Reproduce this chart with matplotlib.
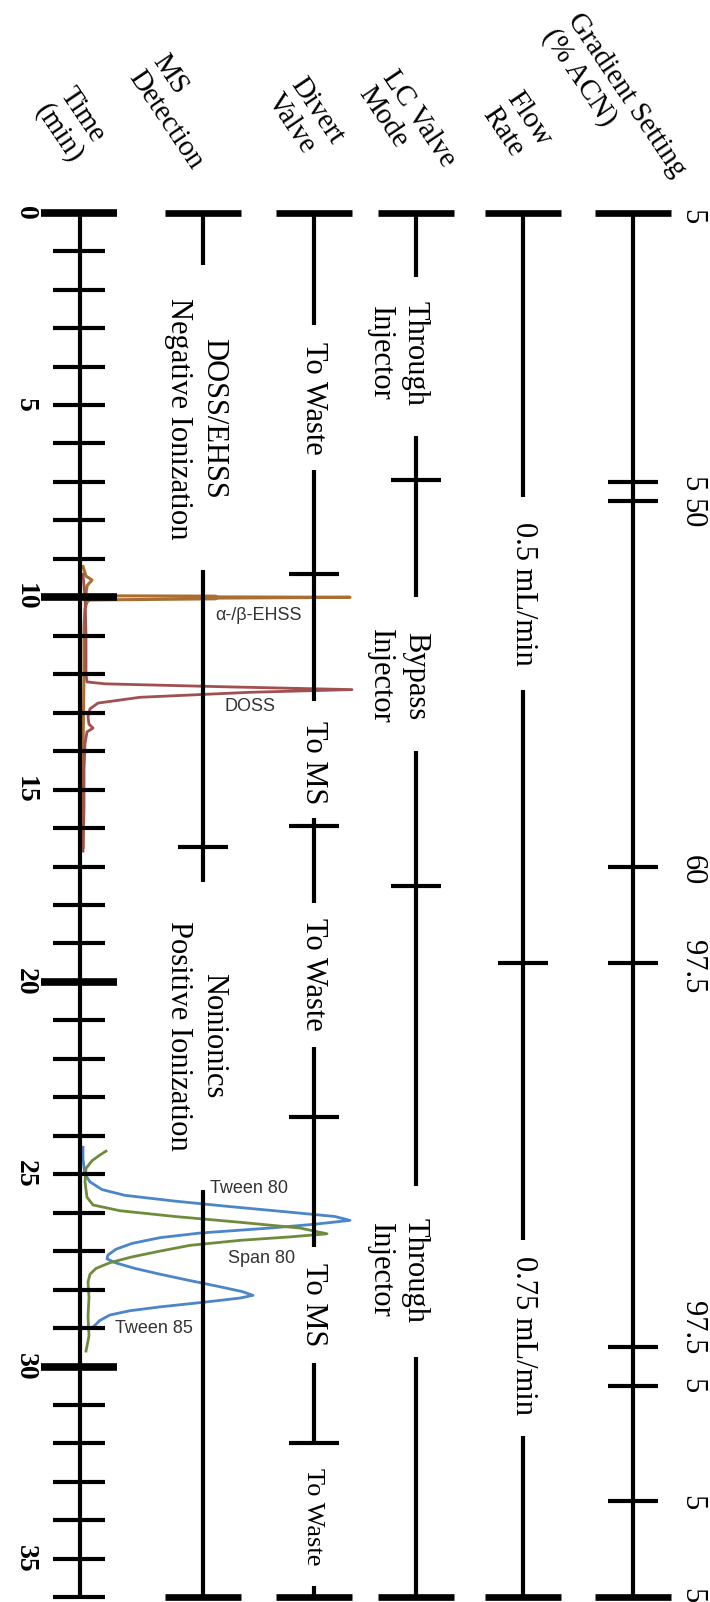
import numpy as np
import matplotlib.pyplot as plt

plt.rcParams['font.family'] = ['Liberation Serif', 'DejaVu Serif']

# ---- data ----
t_end = 36
minor_t = np.arange(0, 37, 1)
major_t = [0, 10, 20, 30]
time_lbl = [0, 5, 10, 15, 20, 25, 30, 35]

headers = ['Time\n(min)', 'MS\nDetection', 'Divert\nValve',
           'LC Valve\nMode', 'Flow\nRate', 'Gradient Setting\n(% ACN)']

ms_seg = [(0, 1.35), (9.3, 17.4), (25.4, 36)]
ms_cross = [16.5]
ms_txt = ['DOSS/EHSS\nNegative Ionization', 'Nonionics\nPositive Ionization']
ms_txt_t = [5.35, 21.4]

div_seg = [(0, 2.93), (6.7, 12.7), (15.75, 17.95), (21.7, 26.9), (29.9, 32.0), (35.7, 36)]
div_cross = [9.4, 15.95, 23.5, 32.0]
div_txt = ['To Waste', 'To MS', 'To Waste', 'To MS', 'To Waste']
div_txt_t = [4.83, 14.3, 19.8, 28.4, 33.9]

lc_seg = [(0, 1.67), (5.8, 10.0), (14.0, 25.3), (29.75, 36)]
lc_cross = [6.95, 17.5]
lc_txt = ['Through\nInjector', 'Bypass\nInjector', 'Through\nInjector']
lc_txt_t = [3.65, 12.05, 27.5]

flow_seg = [(0, 7.4), (12.4, 26.7), (31.8, 36)]
flow_cross = [19.5]
flow_txt = ['0.5 mL/min', '0.75 mL/min']
flow_txt_t = [9.9, 29.2]

grad_seg = [(0, 36)]
grad_cross = [7, 7.5, 17, 19.5, 29.5, 30.5, 33.5]
grad_lbl = ['5', '5', '50', '60', '97.5', '97.5', '5', '5', '5']
grad_lbl_t = [0.1, 7.05, 7.8, 17.1, 19.6, 29.0, 30.5, 33.55, 35.95]

# chromatogram traces (time, signal)
ehss_t = [9.2, 9.45, 9.55, 9.7, 9.9, 9.96, 9.97, 9.99, 10.0, 10.02, 10.04, 10.07, 10.12, 10.3, 10.8, 12, 14, 16.5]
ehss_i = [3, 6, 12, 7, 6, 8, 135, 138, 270, 138, 135, 10, 7, 5, 4, 4, 3, 3]
doss_t = [9.4, 10.0, 11.0, 12.0, 12.2, 12.25, 12.33, 12.4, 12.47, 12.6, 12.75, 12.9, 13.1, 13.3, 13.4, 13.5, 13.8, 14.5, 15.5, 16.6]
doss_i = [3, 5, 6, 6, 7, 25, 150, 272, 170, 60, 18, 10, 8, 9, 13, 7, 5, 4, 4, 3]
tw_t = [24.3, 24.6, 25.0, 25.2, 25.4, 25.55, 25.7, 25.85, 26.0, 26.1, 26.2, 26.3, 26.4, 26.53,
        26.65, 26.8, 26.95, 27.1, 27.2, 27.3, 27.45, 27.6, 27.75, 27.9, 28.05, 28.15, 28.22,
        28.32, 28.45, 28.55, 28.66, 28.8, 28.95]
tw_i = [3, 3, 5, 10, 22, 45, 95, 153, 215, 255, 270, 235, 190, 120,
        80, 52, 36, 28, 27, 35, 55, 80, 107, 135, 162, 173, 160,
        127, 80, 50, 30, 20, 14]
sp_t = [24.4, 24.5, 24.65, 24.85, 25.2, 25.6, 25.8, 25.95, 26.1, 26.25, 26.4, 26.55, 26.63,
        26.72, 26.85, 27.0, 27.15, 27.3, 27.45, 27.6, 27.8, 28.2, 28.7, 29.2, 29.6]
sp_i = [26, 20, 12, 6, 5, 7, 13, 40, 95, 160, 220, 247, 210,
        160, 110, 80, 52, 30, 16, 10, 8, 9, 8, 9, 6]
peak_lbl = ['α-/β-EHSS', 'DOSS', 'Tween 80', 'Span 80', 'Tween 85']
peak_lbl_t = [10.47, 12.85, 25.36, 27.18, 29.0]
peak_lbl_x = [215, 225, 210, 228, 115]

# ---- layout ----
y0 = 212.7
ppm = 38.46


def y2t(y):
    return (y - y0) / ppm


fig = plt.figure(figsize=(7.1, 16.02), dpi=100)
ax = fig.add_axes([0, 0, 1, 1])
ax.set_xlim(0, 710)
ax.set_ylim(y2t(1602), y2t(0))
ax.axis('off')

LW = 3
BAR = 4.8

# time axis
xt = 80
ax.vlines(xt, 0, t_end, color='k', lw=LW, zorder=3)
minor = [t for t in minor_t if t not in major_t]
ax.hlines(minor, 53, 105, color='k', lw=LW, zorder=3)
ax.hlines(major_t, 41, 117, color='k', lw=5.5, zorder=3)
for t in time_lbl:
    ax.text(25, t, str(t), rotation=-90, ha='center', va='center',
            fontsize=20, fontweight='bold')

# headers
hdr_xy = [(71, 125), (178, 112), (305, 119), (407, 127), (517, 127), (614, 103)]
for h, (hx, hy) in zip(headers, hdr_xy):
    ax.text(hx, y2t(hy), h, rotation=-56, ha='center', va='center',
            multialignment='left', fontsize=21, linespacing=1.15)


def column(xc, segs, crosses, txts, txt_t, txt_x, sizes=None):
    for a, b in segs:
        ax.vlines(xc, a, b, color='k', lw=LW, zorder=3)
    ax.hlines([0, t_end], xc - 38, xc + 38, color='k', lw=BAR, zorder=3)
    ax.hlines(crosses, xc - 25, xc + 25, color='k', lw=LW, zorder=3)
    for k, (s, t) in enumerate(zip(txts, txt_t)):
        fs = sizes[k] if sizes else 22
        ax.text(txt_x, t, s, rotation=-90, ha='center', va='center',
                multialignment='center', fontsize=fs, linespacing=1.25)


column(203, ms_seg, ms_cross, ms_txt, ms_txt_t, 196)
column(314, div_seg, div_cross, div_txt, div_txt_t, 313, [22, 22, 22, 22, 19])
column(416, lc_seg, lc_cross, lc_txt, lc_txt_t, 398)
column(523, flow_seg, flow_cross, flow_txt, flow_txt_t, 523)
column(633, grad_seg, grad_cross, [], [], 633)
for s, t in zip(grad_lbl, grad_lbl_t):
    ax.text(692, t, s, rotation=-90, ha='center', va='center', fontsize=22)

# chromatograms
ax.plot(xt + np.array(ehss_i), ehss_t, color='#aa6e32', lw=2.2, zorder=2)
ax.plot(xt + np.array(doss_i), doss_t, color='#a05050', lw=2.0, zorder=2)
ax.plot(xt + np.array(tw_i), tw_t, color='#4a86c8', lw=2.0, zorder=2)
ax.plot(xt + np.array(sp_i), sp_t, color='#6e8c3c', lw=2.0, zorder=2)
for s, t, x in zip(peak_lbl, peak_lbl_t, peak_lbl_x):
    ax.text(x, t, s, ha='left', va='center', fontsize=13, color='#333333',
            family=['Liberation Sans', 'DejaVu Sans'])

fig.savefig('out.png', dpi=100)
